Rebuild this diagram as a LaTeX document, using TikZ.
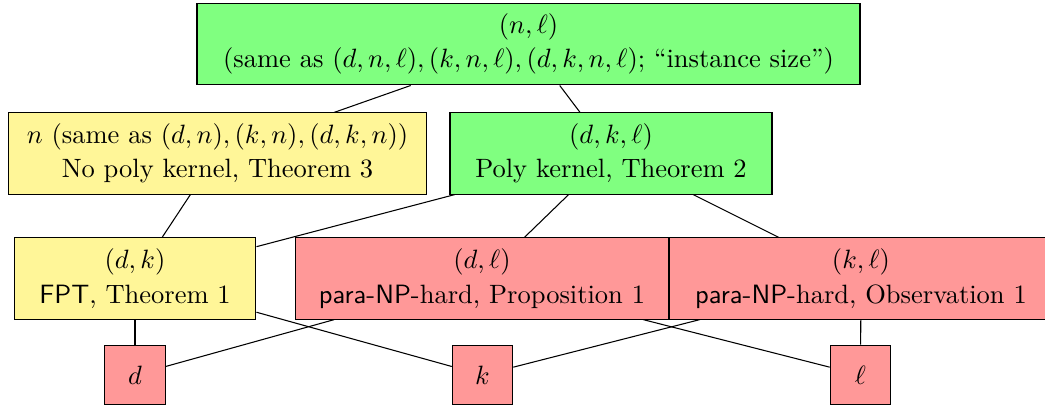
\documentclass[tikz,border=0pt]{standalone}
\usepackage{amsmath}
\definecolor{gbox}{RGB}{128,255,128}
\definecolor{ybox}{RGB}{255,246,152}
\definecolor{rbox}{RGB}{255,152,152}
\begin{document}
\begin{tikzpicture}[x=0.3774pt,y=-0.3774pt,
  box/.style={draw,inner sep=0pt,align=center,minimum height=30.6pt},
  gnode/.style={box,fill=gbox},
  ynode/.style={box,fill=ybox},
  rnode/.style={box,fill=rbox},
  small/.style={draw,fill=rbox,inner sep=0pt,minimum width=22.8pt,minimum height=22.6pt}]
\useasboundingbox (0,0) rectangle (1045,407);
\node[gnode,minimum width=250.2pt,minimum height=30.9pt] (top) at (528.5,44) {$(n,\ell)$\\[1pt](same as $(d,n,\ell),(k,n,\ell),(d,k,n,\ell)$; ``instance size'')};
\node[ynode,minimum width=158.1pt] (n) at (217.5,153.5) {$n$ (same as $(d,n),(k,n),(d,k,n)$)\\[1pt]No poly kernel, Theorem 3};
\node[gnode,minimum width=121.5pt] (dkl) at (611,153.5) {$(d,k,\ell)$\\[1pt]Poly kernel, Theorem 2};
\node[ynode,minimum width=91.3pt] (dk) at (135,278.5) {$(d,k)$\\[1pt]\textsf{FPT}, Theorem 1};
\node[rnode,minimum width=141.1pt] (dl) at (482,278.5) {$(d,\ell)$\\[1pt]\textsf{para-NP}-hard, Proposition 1};
\node[rnode,minimum width=144.9pt] (kl) at (861,278.5) {$(k,\ell)$\\[1pt]\textsf{para-NP}-hard, Observation 1};
\node[small] (d) at (135,375) {$d$};
\node[small] (k) at (482.5,375) {$k$};
\node[small] (l) at (860.5,375) {$\ell$};
\draw (top) -- (n);
\draw (top) -- (dkl);
\draw (n) -- (dk);
\draw (dkl) -- (dk);
\draw (dkl) -- (dl);
\draw (dkl) -- (kl);
\draw (dk) -- (d);
\draw (dk) -- (k);
\draw (dl) -- (d);
\draw (dl) -- (l);
\draw (kl) -- (k);
\draw (kl) -- (l);
\end{tikzpicture}
\end{document}
